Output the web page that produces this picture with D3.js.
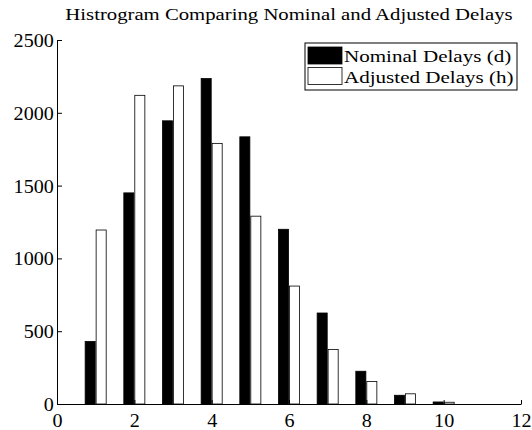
<!DOCTYPE html>
<html>
<head>
<meta charset="utf-8">
<script src="https://cdn.jsdelivr.net/npm/d3@7"></script>
<style>
  body { margin: 0; background: #fff; }
  text { font-family: "Liberation Serif", "Times New Roman", serif; fill: #000; }
</style>
</head>
<body>
<div id="chart"></div>
<script>
var bins = [1, 2, 3, 4, 5, 6, 7, 8, 9, 10];
var nominal = [430, 1450, 1945, 2235, 1835, 1200, 625, 225, 60, 14];
var adjusted = [1195, 2120, 2185, 1790, 1290, 810, 375, 155, 70, 12];
var seriesNames = ["Nominal Delays (d)", "Adjusted Delays (h)"];
var xTicks = [0, 2, 4, 6, 8, 10, 12];
var yTicks = [0, 500, 1000, 1500, 2000, 2500];

var width = 532, height = 430;
var plotLeft = 57, plotRight = 521, plotTop = 40, plotBottom = 404;
var barW = 0.26, off = 0.142;

var svg = d3.select("#chart").append("svg")
    .attr("width", width)
    .attr("height", height);

var x = d3.scaleLinear().domain([0, 12]).range([plotLeft, plotRight]);
var y = d3.scaleLinear().domain([0, 2500]).range([plotBottom, plotTop]);

// bars
var bw = x(barW) - x(0);
svg.selectAll(".nom")
    .data(bins)
    .enter().append("rect")
    .attr("class", "nom")
    .attr("x", function(d) { return x(d - off) - bw / 2; })
    .attr("y", function(d, i) { return y(nominal[i]); })
    .attr("width", bw)
    .attr("height", function(d, i) { return y(0) - y(nominal[i]); })
    .attr("fill", "#000")
    .attr("stroke", "#000")
    .attr("stroke-width", 0.8);

svg.selectAll(".adj")
    .data(bins)
    .enter().append("rect")
    .attr("class", "adj")
    .attr("x", function(d) { return x(d + off) - bw / 2; })
    .attr("y", function(d, i) { return y(adjusted[i]); })
    .attr("width", bw)
    .attr("height", function(d, i) { return y(0) - y(adjusted[i]); })
    .attr("fill", "#fff")
    .attr("stroke", "#000")
    .attr("stroke-width", 0.8);

// axes, ticks point inward
var xAxis = svg.append("g")
    .attr("transform", "translate(0," + plotBottom + ")")
    .call(d3.axisBottom(x).tickValues(xTicks).tickFormat(d3.format("d"))
        .tickSizeInner(-4).tickSizeOuter(0).tickPadding(10));
var yAxis = svg.append("g")
    .attr("transform", "translate(" + plotLeft + ",0)")
    .call(d3.axisLeft(y).tickValues(yTicks).tickFormat(d3.format("d"))
        .tickSizeInner(-5).tickSizeOuter(0).tickPadding(3));

[xAxis, yAxis].forEach(function(ax) {
    ax.select(".domain").attr("stroke", "#000").attr("stroke-width", 1);
    ax.selectAll(".tick line").attr("stroke", "#000");
    ax.selectAll("text")
        .style("font-size", "19px")
        .attr("font-family", null)
        .attr("transform", "scale(1.06,1)");
});
xAxis.selectAll("text").attr("dy", "0.7em");
yAxis.selectAll("text").attr("dy", "0.34em");

// title
svg.append("g")
    .attr("transform", "translate(" + ((plotLeft + plotRight) / 2) + ",20)")
    .append("text")
    .attr("text-anchor", "middle")
    .attr("transform", "scale(1.22,1)")
    .style("font-size", "17px")
    .text("Histrogram Comparing Nominal and Adjusted Delays");

// legend
var legend = svg.append("g").attr("transform", "translate(305,43)");
legend.append("rect")
    .attr("width", 212)
    .attr("height", 47)
    .attr("fill", "#fff")
    .attr("stroke", "#000");

var rows = legend.selectAll(".row")
    .data(seriesNames)
    .enter().append("g")
    .attr("class", "row")
    .attr("transform", function(d, i) { return "translate(3," + (4 + i * 20.5) + ")"; });

rows.append("rect")
    .attr("width", 34)
    .attr("height", 17)
    .attr("fill", function(d, i) { return i === 0 ? "#000" : "#fff"; })
    .attr("stroke", "#000")
    .attr("stroke-width", 0.8);

rows.append("g")
    .attr("transform", "translate(36,15)")
    .append("text")
    .attr("transform", "scale(1.24,1)")
    .style("font-size", "17px")
    .text(function(d) { return d; });
</script>
</body>
</html>
